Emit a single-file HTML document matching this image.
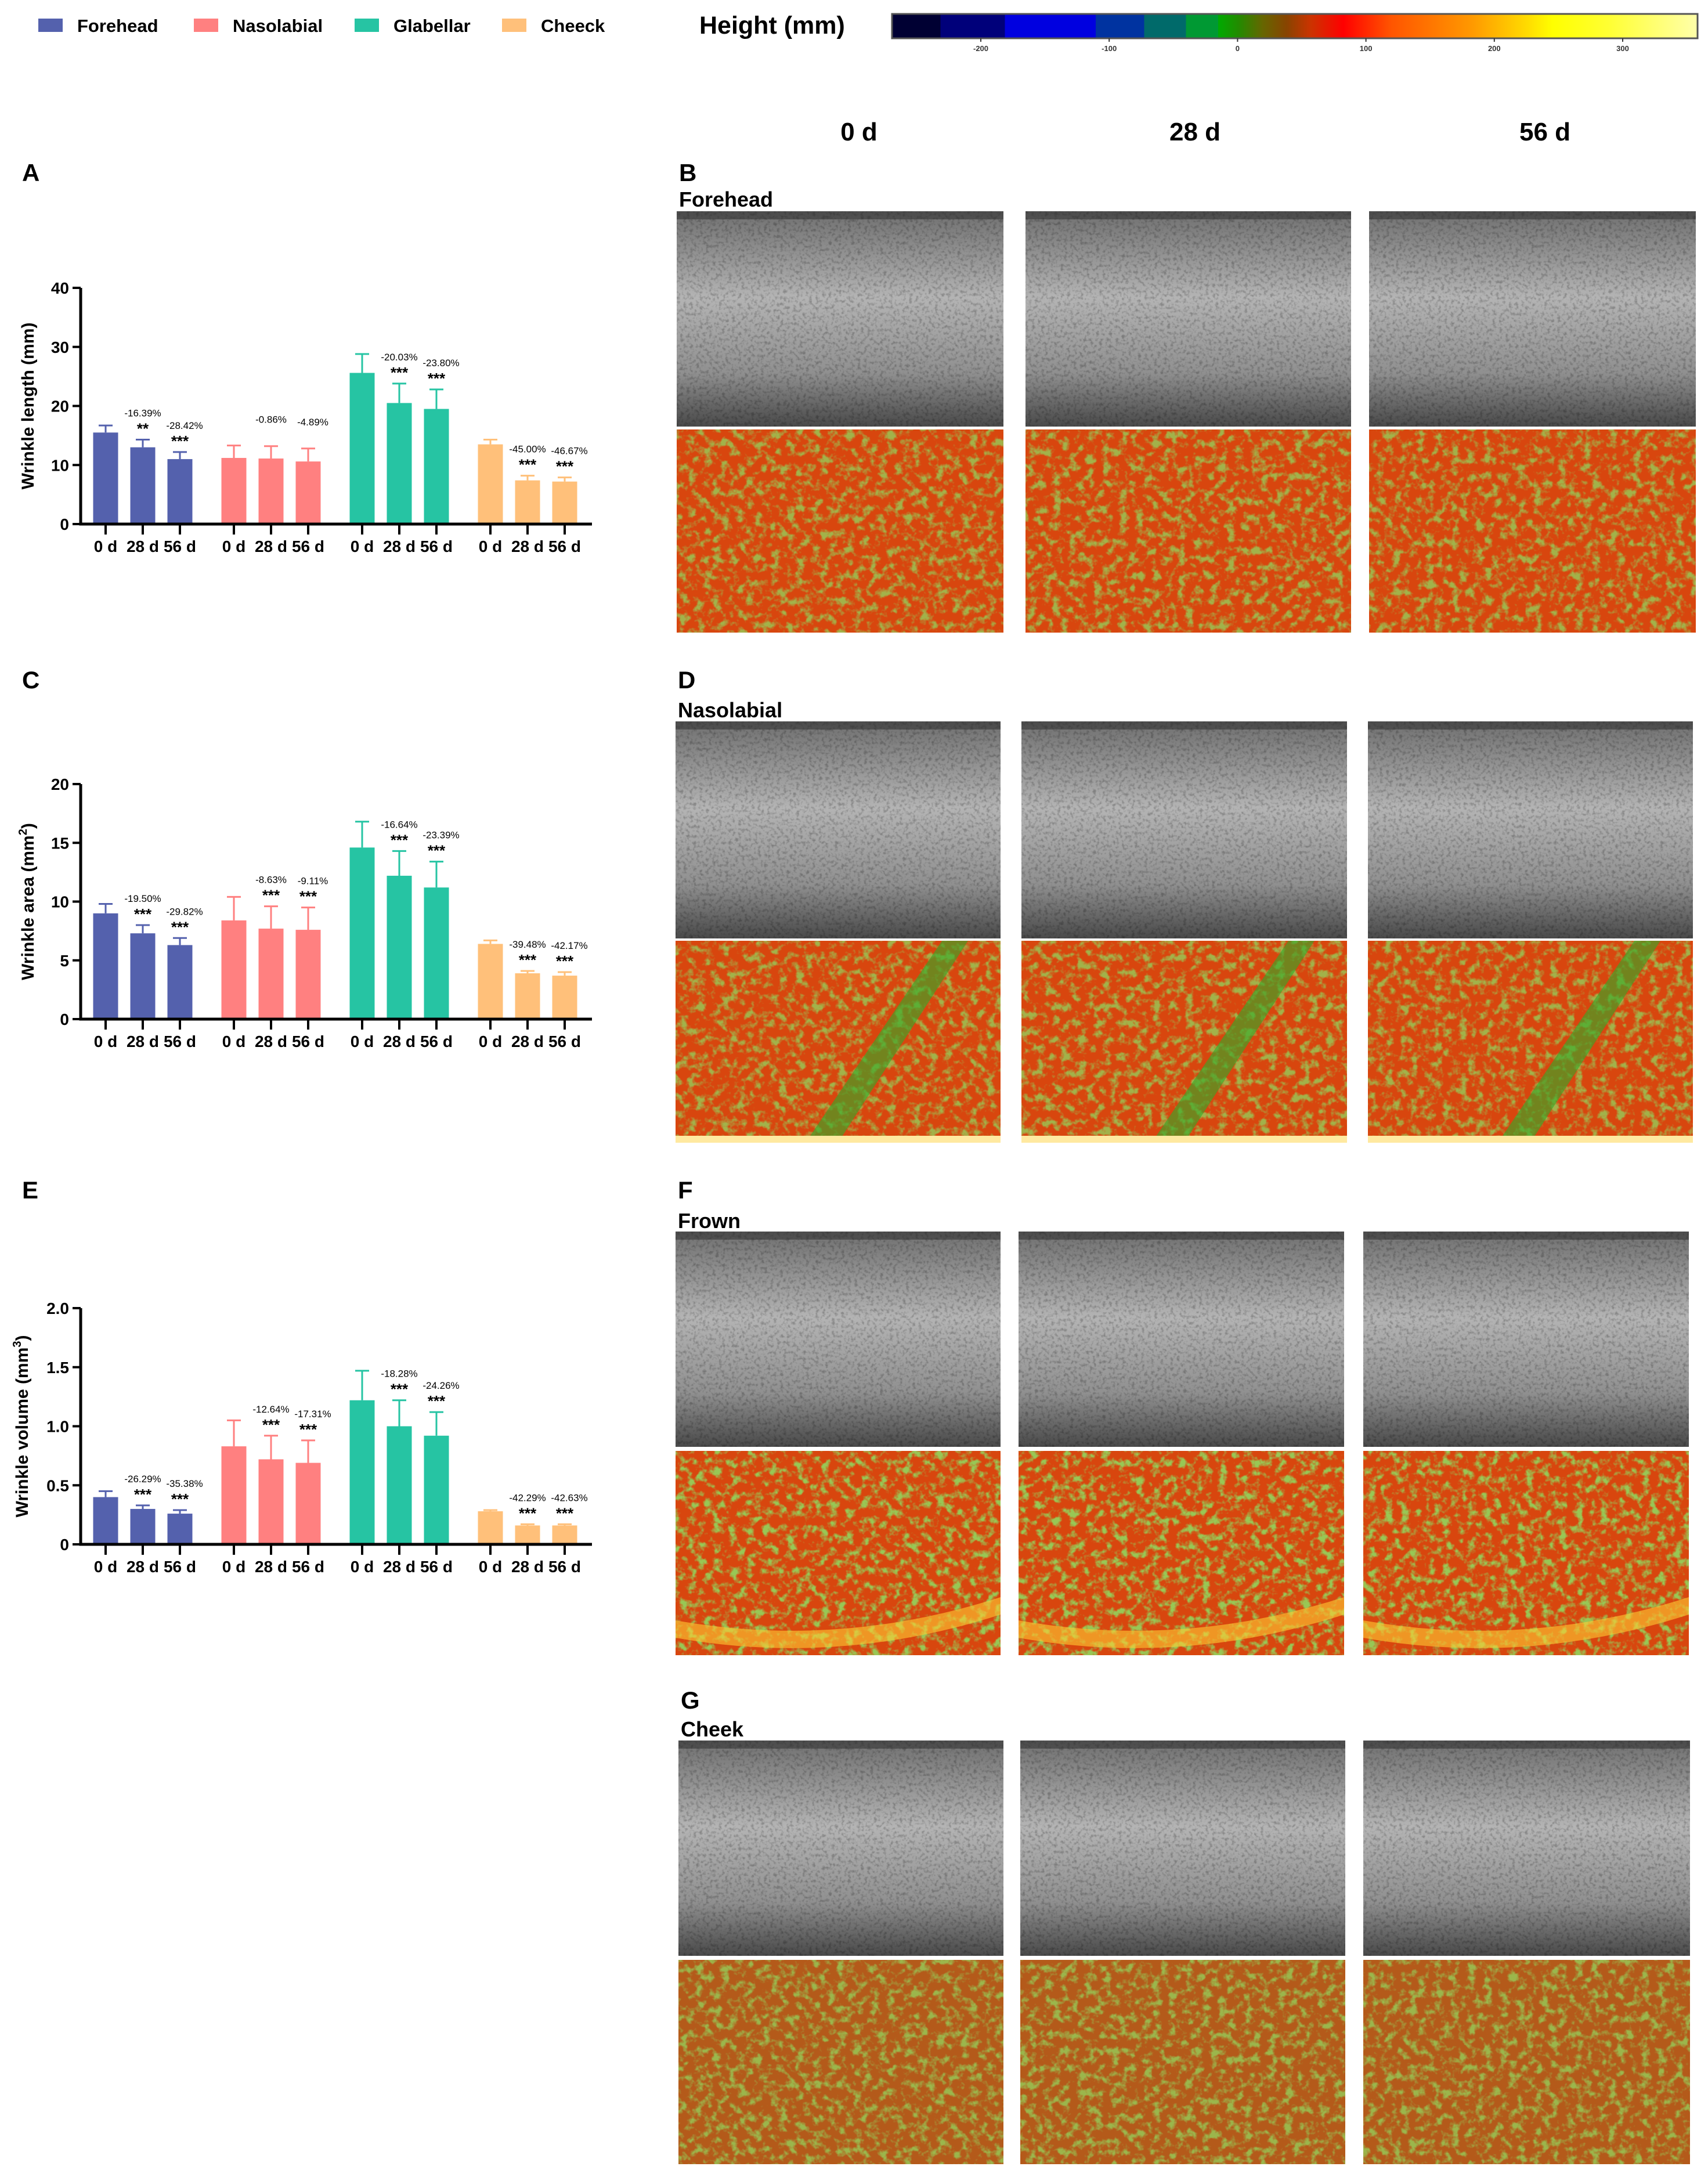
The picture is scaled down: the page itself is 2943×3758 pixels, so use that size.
<!DOCTYPE html>
<html><head><meta charset="utf-8"><style>
html,body{margin:0;padding:0;background:#fff;}
svg{display:block;font-family:"Liberation Sans",sans-serif;}
</style></head><body>
<svg id="fig" width="2943" height="3758" viewBox="0 0 2943 3758" xmlns="http://www.w3.org/2000/svg">
<defs>
<linearGradient id="cbar" x1="0" x2="1" y1="0" y2="0">
<stop offset="0" stop-color="#000033"/><stop offset="0.06" stop-color="#000033"/>
<stop offset="0.06" stop-color="#00007a"/><stop offset="0.14" stop-color="#00007a"/>
<stop offset="0.14" stop-color="#0000e0"/><stop offset="0.253" stop-color="#0000e0"/>
<stop offset="0.253" stop-color="#0033a0"/><stop offset="0.313" stop-color="#0033a0"/>
<stop offset="0.313" stop-color="#006a6a"/><stop offset="0.365" stop-color="#006a6a"/>
<stop offset="0.365" stop-color="#009933"/><stop offset="0.405" stop-color="#009933"/>
<stop offset="0.405" stop-color="#00aa00"/><stop offset="0.43" stop-color="#228b00"/>
<stop offset="0.46" stop-color="#666600"/><stop offset="0.49" stop-color="#884400"/>
<stop offset="0.52" stop-color="#cc3300"/><stop offset="0.56" stop-color="#ff0000"/>
<stop offset="0.62" stop-color="#ff5500"/><stop offset="0.72" stop-color="#ff9900"/>
<stop offset="0.79" stop-color="#ffdd00"/><stop offset="0.82" stop-color="#ffff00"/>
<stop offset="0.89" stop-color="#ffff33"/><stop offset="1" stop-color="#ffffaa"/>
</linearGradient>
<linearGradient id="grayg" x1="0" x2="0" y1="0" y2="1">
<stop offset="0" stop-color="#707070"/><stop offset="0.4" stop-color="#b4b4b4"/>
<stop offset="0.75" stop-color="#909090"/><stop offset="1" stop-color="#4a4a4a"/>
</linearGradient>
<filter id="speck" x="0" y="0" width="100%" height="100%">
<feTurbulence type="fractalNoise" baseFrequency="0.18" numOctaves="2" seed="3"/>
<feColorMatrix type="matrix" values="0 0 0 0 0  0 0 0 0 0  0 0 0 0 0  0 0 0 -3 1.6"/>
</filter>
<filter id="green" x="0" y="0" width="100%" height="100%">
<feTurbulence type="fractalNoise" baseFrequency="0.07" numOctaves="3" seed="7"/>
<feColorMatrix type="matrix" values="0 0 0 0 0.3  0 0 0 0 0.62  0 0 0 0 0.1  4 0 0 0 -1.9"/>
</filter>
<filter id="green2" x="0" y="0" width="100%" height="100%">
<feTurbulence type="fractalNoise" baseFrequency="0.07" numOctaves="3" seed="11"/>
<feColorMatrix type="matrix" values="0 0 0 0 0.3  0 0 0 0 0.62  0 0 0 0 0.1  4 0 0 0 -1.9"/>
</filter>
<filter id="green3" x="0" y="0" width="100%" height="100%">
<feTurbulence type="fractalNoise" baseFrequency="0.07" numOctaves="3" seed="19"/>
<feColorMatrix type="matrix" values="0 0 0 0 0.3  0 0 0 0 0.62  0 0 0 0 0.1  4 0 0 0 -1.9"/>
</filter>
</defs>
<g id="charts"></g>
<g id="images"></g>
</svg>
<script>
// ---------- chart data ----------
const groups = ["Forehead","Nasolabial","Glabellar","Cheeck"];
const timepoints = ["0 d","28 d","56 d"];
const groupColors = ["#5461ad","#ff8080","#26c4a3","#ffc07a"];
const lengthMeans = [[15.5,13.0,11.0],[11.2,11.1,10.6],[25.6,20.5,19.5],[13.5,7.4,7.2]];
const lengthErrs  = [[1.2,1.3,1.2],[2.1,2.1,2.2],[3.2,3.3,3.3],[0.8,0.8,0.7]];
const lengthPct   = [["","-16.39%","-28.42%"],["","-0.86%","-4.89%"],["","-20.03%","-23.80%"],["","-45.00%","-46.67%"]];
const lengthStars = [["","**","***"],["","",""],["","***","***"],["","***","***"]];
const areaMeans = [[9.0,7.3,6.3],[8.4,7.7,7.6],[14.6,12.2,11.2],[6.4,3.9,3.7]];
const areaErrs  = [[0.8,0.7,0.6],[2.0,1.9,1.9],[2.2,2.1,2.2],[0.3,0.2,0.3]];
const areaPct   = [["","-19.50%","-29.82%"],["","-8.63%","-9.11%"],["","-16.64%","-23.39%"],["","-39.48%","-42.17%"]];
const areaStars = [["","***","***"],["","***","***"],["","***","***"],["","***","***"]];
const volMeans = [[0.40,0.30,0.26],[0.83,0.72,0.69],[1.22,1.00,0.92],[0.28,0.16,0.16]];
const volErrs  = [[0.05,0.03,0.03],[0.22,0.20,0.19],[0.25,0.22,0.20],[0.01,0.01,0.01]];
const volPct   = [["","-26.29%","-35.38%"],["","-12.64%","-17.31%"],["","-18.28%","-24.26%"],["","-42.29%","-42.63%"]];
const volStars = [["","***","***"],["","***","***"],["","***","***"],["","***","***"]];
const lengthTicks = [0,10,20,30,40];
const areaTicks = [0,5,10,15,20];
const volTicks = [0,0.5,1.0,1.5,2.0];
const volTickLabels = ["0","0.5","1.0","1.5","2.0"];

const NS="http://www.w3.org/2000/svg";
function mk(tag,attrs,parent,text){const e=document.createElementNS(NS,tag);for(const k in attrs)e.setAttribute(k,attrs[k]);if(text!==undefined)e.textContent=text;parent.appendChild(e);return e;}

function drawChart(cfg){
  const root=document.getElementById('charts');
  const g=mk('g',{},root);
  
  
  const x0=139,x1=1020,yTop=cfg.top,yBot=cfg.bot,maxV=cfg.ticks[cfg.ticks.length-1];
  const y=v=>yBot-(v/maxV)*(yBot-yTop);
  const xc=(gi,ti)=>182+gi*221+ti*64;
  cfg.means.forEach((arr,gi)=>arr.forEach((v,ti)=>{
    const cx=xc(gi,ti), top=y(v), et=y(v+cfg.errs[gi][ti]);
    const r=mk('rect',{x:cx-21.5,y:top,width:43,height:yBot-top,fill:groupColors[gi]},g);
    
    
    const eb=mk('path',{d:`M${cx} ${top}V${et}M${cx-12} ${et}H${cx+12}`,stroke:groupColors[gi],'stroke-width':3,fill:'none'},g);
    
    
    if(cfg.stars[gi][ti]){const s=mk('text',{x:cx,y:et-10,'text-anchor':'middle','font-size':26,'font-weight':'bold'},g,cfg.stars[gi][ti]);
      
      }
    if(cfg.pct[gi][ti]){const p=mk('text',{x:cx+(ti==2?8:0),y:et-40,'text-anchor':'middle','font-size':17},g,cfg.pct[gi][ti]);
      
      }
    const tk=mk('line',{x1:cx,x2:cx,y1:yBot,y2:yBot+18,stroke:'#000','stroke-width':4},g);
    
    
    const tl=mk('text',{x:cx,y:yBot+48,'text-anchor':'middle','font-size':28,'font-weight':'bold'},g,timepoints[ti]);
    
    
  }));
  const ax=mk('path',{d:`M${x0} ${yTop}V${yBot}H${x1}`,stroke:'#000','stroke-width':5,fill:'none'},g);
  
  
  cfg.ticks.forEach((t,i)=>{
    mk('line',{x1:x0-14,x2:x0,y1:y(t),y2:y(t),stroke:'#000','stroke-width':4},g);
    const l=mk('text',{x:x0-20,y:y(t)+10,'text-anchor':'end','font-size':28,'font-weight':'bold'},g,cfg.tickLabels?cfg.tickLabels[i]:String(t));
    
    
  });
  const cy=(yTop+yBot)/2;
  const tt=mk('text',{x:0,y:0,transform:`translate(${cfg.titleX},${cy}) rotate(-90)`,'text-anchor':'middle','font-size':30,'font-weight':'bold'},g);
  
  
  tt.innerHTML=cfg.title;
  const pl=mk('text',{x:38,y:cfg.letterY,'font-size':42,'font-weight':'bold'},g,cfg.letter);
  
  
}
drawChart({name:'wrinkle-length-chart',top:496,bot:903,ticks:lengthTicks,means:lengthMeans,errs:lengthErrs,pct:lengthPct,stars:lengthStars,title:'Wrinkle length (mm)',titleX:58,letter:'A',letterY:312});
drawChart({name:'wrinkle-area-chart',top:1351,bot:1756,ticks:areaTicks,means:areaMeans,errs:areaErrs,pct:areaPct,stars:areaStars,title:'Wrinkle area (mm<tspan dy="-12" font-size="20">2</tspan><tspan dy="12">)</tspan>',titleX:58,letter:'C',letterY:1186});
drawChart({name:'wrinkle-volume-chart',top:2254,bot:2661,ticks:volTicks,tickLabels:volTickLabels,means:volMeans,errs:volErrs,pct:volPct,stars:volStars,title:'Wrinkle volume (mm<tspan dy="-12" font-size="20">3</tspan><tspan dy="12">)</tspan>',titleX:48,letter:'E',letterY:2065});

const svg=document.getElementById('fig');
const legX=[66,334,611,865];
groups.forEach((n,i)=>{
  const r=mk('rect',{x:legX[i],y:32,width:42,height:23,fill:groupColors[i]},svg);
  
  
  const t=mk('text',{x:legX[i]+67,y:55,'font-size':31,'font-weight':'bold'},svg,n);
  
  
});
const ht=mk('text',{x:1205,y:58,'font-size':43,'font-weight':'bold'},svg,'Height (mm)');


const cb=mk('rect',{x:1537,y:24,width:1388,height:42,fill:'url(#cbar)',stroke:'#555','stroke-width':3},svg);


const cbTicks=["-200","-100","0","100","200","300"];
cbTicks.forEach((t,i)=>{
  const x=1690+i*221.2;
  mk('line',{x1:x,x2:x,y1:66,y2:72,stroke:'#333','stroke-width':2},svg);
  const l=mk('text',{x:x,y:88,'text-anchor':'middle','font-size':13,'font-weight':'bold',fill:'#333'},svg,t);
  
  
});
[["0 d",1480],["28 d",2059],["56 d",2662]].forEach(([t,x])=>{
  const l=mk('text',{x:x,y:242,'text-anchor':'middle','font-size':44,'font-weight':'bold'},svg,t);
  
  
});

const panels=[
 {letter:'B',name:'Forehead',ly:312,ny:356,gy:[364,735],hy:[740,1090],cols:[[1166,1729],[1767,2328],[2359,2922]],kind:0},
 {letter:'D',name:'Nasolabial',ly:1186,ny:1236,gy:[1243,1617],hy:[1621,1969],cols:[[1164,1724],[1760,2321],[2357,2917]],kind:1},
 {letter:'F',name:'Frown',ly:2065,ny:2116,gy:[2122,2493],hy:[2500,2852],cols:[[1164,1724],[1755,2316],[2349,2910]],kind:2},
 {letter:'G',name:'Cheek',ly:2944,ny:2992,gy:[2999,3370],hy:[3377,3729],cols:[[1169,1729],[1758,2318],[2349,2912]],kind:3}
];
const gf=['url(#green)','url(#green2)','url(#green3)'];
const im=document.getElementById('images');
panels.forEach(p=>{
  const L=mk('text',{x:p.cols[0][0]+4,y:p.ly,'font-size':42,'font-weight':'bold'},im,p.letter);
  
  
  const N=mk('text',{x:p.cols[0][0]+4,y:p.ny,'font-size':36,'font-weight':'bold'},im,p.name);
  
  
  p.cols.forEach(([a,b],ci)=>{
    const w=b-a, gh=p.gy[1]-p.gy[0], hh=p.hy[1]-p.hy[0];
    const gg=mk('g',{},im);
    
    
    mk('rect',{x:a,y:p.gy[0],width:w,height:gh,fill:'url(#grayg)'},gg);
    mk('rect',{x:a,y:p.gy[0],width:w,height:gh,filter:'url(#speck)',opacity:0.22},gg);
    mk('rect',{x:a,y:p.gy[0],width:w,height:14,fill:'#2a2a2a',opacity:0.5},gg);
    const hg=mk('g',{},im);
    
    
    mk('rect',{x:a,y:p.hy[0],width:w,height:hh,fill:p.kind==3?'#b45a1a':'#d8460e'},hg);
    mk('rect',{x:a,y:p.hy[0],width:w,height:hh,filter:gf[ci],opacity:p.kind==2?0.95:0.8},hg);
    if(p.kind==1){
      mk('path',{d:`M${a+w*0.4} ${p.hy[1]}L${a+w*0.82} ${p.hy[0]}L${a+w*0.9} ${p.hy[0]}L${a+w*0.5} ${p.hy[1]}Z`,fill:'#2fae2a',opacity:0.6},hg);
      mk('path',{d:`M${a} ${p.hy[1]-12}H${b}V${p.hy[1]}H${a}Z`,fill:'#ffe9a0'},hg);
    }
    if(p.kind==2){
      mk('path',{d:`M${a} ${p.hy[1]-60}Q${a+w*0.5} ${p.hy[1]-10} ${b} ${p.hy[1]-100}V${p.hy[1]-70}Q${a+w*0.5} ${p.hy[1]+20} ${a} ${p.hy[1]-30}Z`,fill:'#ffcc33',opacity:0.6},hg);
    }
  });
});
</script>
</body></html>
